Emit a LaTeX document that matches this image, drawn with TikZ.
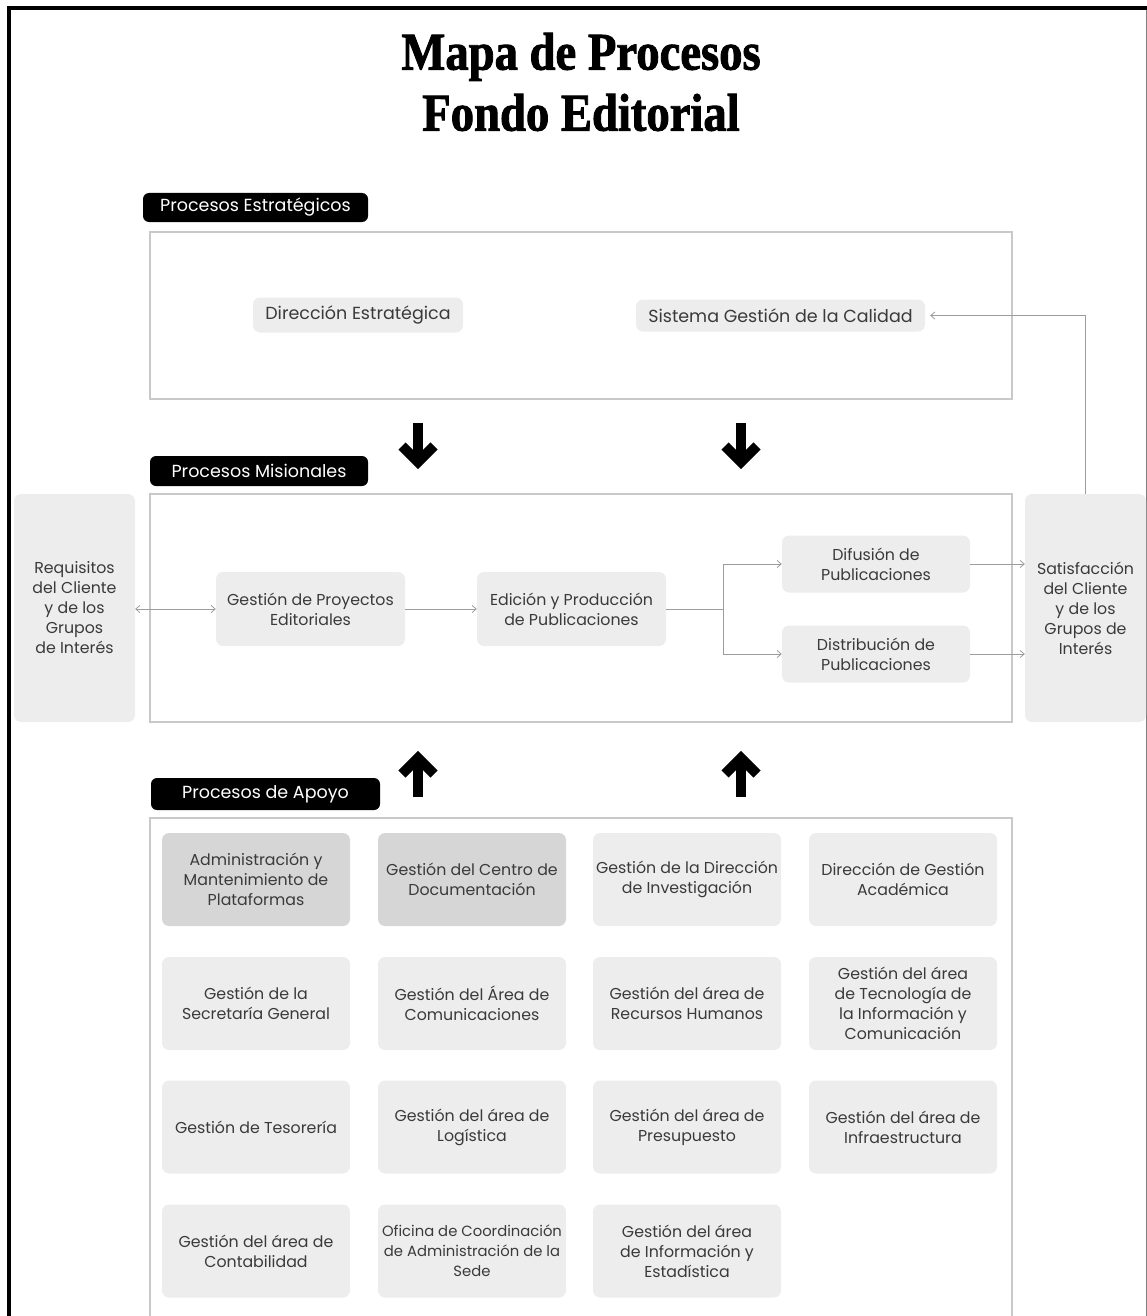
\documentclass[tikz,border=0pt]{standalone}
\usepackage{fontspec}
\setmainfont{Poppins}
\newfontfamily\titlefont[FakeStretch=0.88,FakeBold=1.6]{Liberation Serif}
\usetikzlibrary{arrows.meta,calc}
\definecolor{boxgray}{HTML}{EDEDED}
\definecolor{darkbox}{HTML}{D6D6D6}
\definecolor{framegray}{HTML}{C9C9C9}
\definecolor{linegray}{HTML}{9C9C9C}
\definecolor{txt}{HTML}{3A3A3A}
\begin{document}
\begin{tikzpicture}[x=1pt,y=-1pt,
  proc/.style={fill=boxgray, rounded corners=7pt, text=txt, align=center, inner sep=0pt,
    font=\fontsize{15.8}{20}\selectfont},
  bigproc/.style={proc, font=\fontsize{17.5}{21}\selectfont},
  cell/.style={proc, minimum width=188pt, minimum height=93pt},
  darkcell/.style={cell, fill=darkbox},
  side/.style={proc, minimum width=121pt, minimum height=228pt},
  frame/.style={draw=framegray, line width=1.1pt, inner sep=0pt},
  tag/.style={fill=black, rounded corners=6pt, text=white, inner sep=0pt,
    font=\fontsize{17.5}{20}\selectfont},
  conn/.style={draw=linegray, line width=0.8pt},
  tip/.style={-{Straight Barb[length=4pt,width=7pt]}},
  bigdown/.style={line width=10pt, line join=miter},
]
\useasboundingbox (0,0) rectangle (1147,1316);
% page edges
\draw[line width=4pt] (9,1316) -- (9,8) -- (1147,8);
\draw[gray, line width=1pt] (1146,10) -- (1146,1316);

% title
\node[font=\titlefont\bfseries\fontsize{53}{61}\selectfont, align=center] (title) at (581,82)
  {Mapa de Procesos\\Fondo Editorial};

% strategic processes
\node[frame, minimum width=862pt, minimum height=167pt] (estr) at (581,315.5) {};
\node[tag, minimum width=225pt, minimum height=29pt] (testr) at (255.5,207.5) {Procesos Estratégicos};
\node[bigproc, minimum width=210pt, minimum height=35pt] (dir) at (358,315) {Dirección Estratégica};
\node[bigproc, minimum width=289pt, minimum height=32pt] (sgc) at (780.5,315.5) {Sistema Gestión de la Calidad};

% mission processes
\node[frame, minimum width=862pt, minimum height=228pt] (mis) at (581,608) {};
\node[tag, minimum width=218pt, minimum height=30pt] (tmis) at (259,471) {Procesos Misionales};
\node[side] (req) at (74.5,608) {Requisitos\\del Cliente\\y de los\\Grupos\\de Interés};
\node[side] (sat) at (1085.5,608) {Satisfacción\\del Cliente\\y de los\\Grupos de\\Interés};
\node[proc, minimum width=189pt, minimum height=74pt] (gpe) at (310.5,609) {Gestión de Proyectos\\Editoriales};
\node[proc, minimum width=189pt, minimum height=74pt] (edp) at (571.5,609) {Edición y Producción\\de Publicaciones};
\node[proc, minimum width=188pt, minimum height=57pt] (dif) at (876,564) {Difusión de\\Publicaciones};
\node[proc, minimum width=188pt, minimum height=57pt] (dis) at (876,654) {Distribución de\\Publicaciones};

% flows
\draw[conn, {Straight Barb[length=4pt,width=7pt]}-{Straight Barb[length=4pt,width=7pt]}]
  (req.east |- gpe.west) -- (gpe.west);
\draw[conn, tip] (gpe.east) -- (edp.west);
\draw[conn] (edp.east) -- ++(57,0) coordinate (fork);
\draw[conn, tip] (fork) |- (dif.west);
\draw[conn, tip] (fork) |- (dis.west);
\draw[conn, tip] (dif.east) -- (sat.west |- dif.east);
\draw[conn, tip] (dis.east) -- (sat.west |- dis.east);
\draw[conn, tip, shorten >=5pt] (sat.north) |- (sgc.east);

% heavy arrows between levels
\foreach \c/\n in {418/a, 741/b}{
  \coordinate (dn\n) at (\c,423);
  \draw[bigdown] (dn\n) -- ++(0,38);
  \draw[bigdown] ($(dn\n)+(-16,23)$) -- ++(16,16) -- ++(16,-16);
}
\foreach \c/\n in {418/a, 741/b}{
  \coordinate (up\n) at (\c,797);
  \draw[bigdown] (up\n) -- ++(0,-38);
  \draw[bigdown] ($(up\n)+(-16,-23)$) -- ++(16,-16) -- ++(16,16);
}

% support processes
\draw[draw=framegray, line width=1.1pt] (150,1320) |- (1012,818) -- (1012,1320);
\node[tag, minimum width=229pt, minimum height=32pt] (tapo) at (265.5,794) {Procesos de Apoyo};

\node[darkcell] (a11) at (256,879.5) {Administración y\\Mantenimiento de\\Plataformas};
\node[darkcell] (a12) at (472,879.5) {Gestión del Centro de\\Documentación};
\node[cell] (a13) at (687,879.5) {Gestión de la Dirección\\de Investigación};
\node[cell] (a14) at (903,879.5) {Dirección de Gestión\\Académica};

\node[cell] (a21) at (256,1003.5) {Gestión de la\\Secretaría General};
\node[cell] (a22) at (472,1003.5) {Gestión del Área de\\Comunicaciones};
\node[cell] (a23) at (687,1003.5) {Gestión del área de\\Recursos Humanos};
\node[cell] (a24) at (903,1003.5) {Gestión del área\\de Tecnología de\\la Información y\\Comunicación};

\node[cell] (a31) at (256,1127) {Gestión de Tesorería};
\node[cell] (a32) at (472,1127) {Gestión del área de\\Logística};
\node[cell] (a33) at (687,1127) {Gestión del área de\\Presupuesto};
\node[cell] (a34) at (903,1127) {Gestión del área de\\Infraestructura};

\node[cell] (a41) at (256,1251) {Gestión del área de\\Contabilidad};
\node[cell, font=\fontsize{14.8}{20}\selectfont] (a42) at (472,1251) {Oficina de Coordinación\\de Administración de la\\Sede};
\node[cell] (a43) at (687,1251) {Gestión del área\\de Información y\\Estadística};
\end{tikzpicture}
\end{document}
